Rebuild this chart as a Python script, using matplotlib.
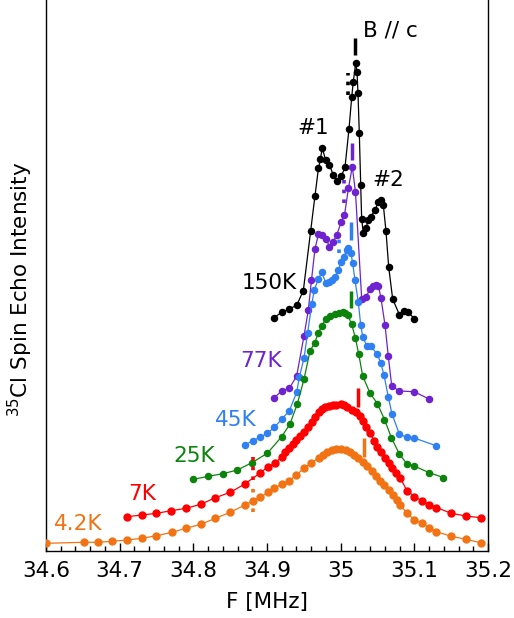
import matplotlib
matplotlib.use("Agg")
import matplotlib.pyplot as plt
from matplotlib.ticker import MultipleLocator

plt.rcParams['font.family'] = ['DejaVu Sans']

# ---------------- data (frequency in MHz, intensity in arbitrary units incl. offset) ----------------
f_150K = [34.9095, 34.9199, 34.9303, 34.9403, 34.9493, 34.9593, 34.9651, 34.9699, 34.9726, 34.9749,
          34.9797, 34.9848, 34.9900, 34.9957, 35.0011, 35.0059, 35.0113, 35.0150, 35.0171, 35.0204,
          35.0222, 35.0235, 35.0253, 35.0272, 35.0285, 35.0307, 35.0344, 35.0375, 35.0412, 35.0466,
          35.0511, 35.0543, 35.0579, 35.0615, 35.0652, 35.0706, 35.0796, 35.0855, 35.0918, 35.0995]
i_150K = [233.3, 238.7, 242.0, 245.7, 260.3, 320.3, 355.0, 383.0, 392.0, 403.0,
          391.0, 386.0, 376.0, 370.0, 375.0, 384.0, 422.0, 454.0, 469.0, 488.0,
          479.0, 458.0, 418.0, 366.0, 332.0, 318.0, 323.0, 331.0, 334.5, 341.0,
          349.0, 351.5, 346.0, 320.0, 284.0, 252.0, 236.5, 240.0, 239.0, 232.5]

f_77K = [34.9099, 34.9199, 34.9303, 34.9403, 34.9502, 34.9561, 34.9604, 34.9651, 34.9699, 34.9746,
         34.9801, 34.9848, 34.9896, 34.9946, 35.0008, 35.0052, 35.0106, 35.0158, 35.0201, 35.0285,
         35.0344, 35.0398, 35.0439, 35.0479, 35.0513, 35.0547, 35.0602, 35.0646, 35.0693, 35.0796,
         35.0999, 35.1199]
i_77K = [153.3, 160.0, 162.7, 175.0, 215.0, 241.0, 271.0, 302.0, 317.0, 316.0,
         312.0, 304.5, 309.0, 316.0, 329.0, 336.0, 363.0, 384.3, 359.0, 252.5,
         254.0, 262.0, 265.0, 266.0, 265.0, 253.0, 226.0, 195.0, 165.0, 160.0,
         159.3, 152.0]

f_45K = [34.8701, 34.8806, 34.8905, 34.9004, 34.9099, 34.9199, 34.9303, 34.9403, 34.9438, 34.9502,
         34.9552, 34.9607, 34.9642, 34.9696, 34.9742, 34.9801, 34.9846, 34.9889, 34.9923, 34.9968,
         35.0008, 35.0045, 35.0082, 35.0106, 35.0140, 35.0163, 35.0194, 35.0239, 35.0272, 35.0299,
         35.0353, 35.0408, 35.0497, 35.0543, 35.0588, 35.0646, 35.0697, 35.0796, 35.0896, 35.0999,
         35.1294]
i_45K = [106.0, 110.3, 113.7, 117.7, 123.7, 131.7, 140.3, 158.7, 173.7, 192.7,
         218.3, 246.7, 261.0, 271.7, 278.7, 267.7, 269.3, 271.0, 273.7, 281.0,
         289.0, 294.3, 301.0, 303.5, 297.7, 287.7, 271.0, 249.3, 226.0, 214.3,
         205.3, 205.0, 196.7, 188.3, 176.0, 154.3, 137.0, 117.0, 113.7, 113.0,
         105.3]

f_25K = [34.8002, 34.8203, 34.8399, 34.8599, 34.8799, 34.9004, 34.9199, 34.9312, 34.9411, 34.9502,
         34.9584, 34.9647, 34.9696, 34.9742, 34.9797, 34.9855, 34.9923, 34.9981, 35.0027, 35.0061,
         35.0095, 35.0150, 35.0199, 35.0245, 35.0299, 35.0398, 35.0497, 35.0595, 35.0690, 35.0796,
         35.0896, 35.0999, 35.1202, 35.1393]
i_25K = [71.7, 74.7, 77.3, 81.0, 88.5, 97.7, 114.3, 127.0, 147.0, 171.7,
         200.0, 208.3, 217.7, 225.0, 231.7, 235.0, 236.7, 237.7, 238.7, 238.0,
         236.0, 226.7, 213.2, 197.0, 175.0, 158.0, 147.5, 131.5, 113.0, 97.0,
         87.5, 85.0, 78.3, 73.5]

f_7K = [34.710, 34.730, 34.750, 34.770, 34.790, 34.810, 34.830, 34.850, 34.870, 34.890,
        34.901, 34.911, 34.920, 34.925, 34.930, 34.935, 34.940, 34.945, 34.950, 34.955,
        34.961, 34.965, 34.970, 34.974, 34.979, 34.984, 34.989, 34.994, 35.000, 35.005,
        35.009, 35.015, 35.021, 35.026, 35.030, 35.035, 35.040, 35.045, 35.050, 35.055,
        35.060, 35.066, 35.070, 35.075, 35.081, 35.090, 35.100, 35.110, 35.120, 35.130,
        35.150, 35.170, 35.190]
i_7K = [34.3, 36.0, 37.7, 40.3, 42.7, 46.7, 53.3, 58.7, 67.0, 77.7,
        84.0, 88.0, 94.3, 99.0, 102.7, 107.0, 111.0, 115.0, 119.0, 124.0,
        129.0, 134.0, 139.0, 142.5, 144.3, 145.5, 146.3, 146.5, 147.5, 146.0,
        144.0, 141.0, 139.0, 135.0, 130.5, 124.3, 117.7, 110.5, 104.5, 99.3,
        93.0, 88.0, 83.5, 78.0, 72.7, 60.5, 54.5, 50.3, 46.5, 43.5,
        37.7, 35.0, 33.3]

f_4K = [34.600, 34.651, 34.670, 34.690, 34.710, 34.730, 34.750, 34.771, 34.790, 34.810,
        34.830, 34.850, 34.870, 34.881, 34.890, 34.902, 34.910, 34.920, 34.930, 34.940,
        34.950, 34.960, 34.970, 34.976, 34.981, 34.988, 34.994, 35.001, 35.007, 35.012,
        35.018, 35.024, 35.030, 35.036, 35.042, 35.048, 35.053, 35.059, 35.065, 35.071,
        35.076, 35.081, 35.090, 35.100, 35.110, 35.120, 35.130, 35.150, 35.170, 35.190]
i_4K = [7.7, 8.7, 8.7, 9.7, 11.0, 12.7, 15.3, 18.7, 22.7, 26.7,
        32.7, 38.7, 46.0, 50.3, 53.7, 58.7, 63.0, 67.0, 70.3, 76.0,
        82.7, 88.0, 93.2, 96.5, 99.5, 101.0, 102.3, 102.3, 100.7, 99.3,
        96.0, 92.7, 89.0, 84.7, 80.2, 75.5, 70.3, 66.0, 61.0, 56.0,
        51.0, 46.0, 37.7, 31.4, 28.0, 23.2, 19.3, 14.7, 11.7, 8.3]

series_labels = ["150K", "77K", "45K", "25K", "7K", "4.2K"]
series_colors = ["#000000", "#6e22d0", "#2f80f2", "#0c840c", "#ff0000", "#f27314"]
series_f = [f_150K, f_77K, f_45K, f_25K, f_7K, f_4K]
series_i = [i_150K, i_77K, i_45K, i_25K, i_7K, i_4K]

# solid vertical markers (frequency, bottom, top)
bar_f = [35.0194, 35.0158, 35.0136, 35.0136, 35.0239, 35.0319]
bar_lo = [496.0, 391.0, 311.0, 243.0, 144.0, 94.0]
bar_hi = [513.0, 407.7, 329.0, 260.0, 163.0, 113.0]
# dotted vertical markers
dot_f = [35.0103, 35.0041, 34.9977, 34.8808, 34.8804]
dot_lo = [456.0, 348.0, 298.0, 71.0, 39.3]
dot_hi = [478.0, 371.0, 312.0, 94.3, 62.7]
dot_colors = ["#000000", "#6e22d0", "#2f80f2", "#ff0000", "#f27314"]

# label positions (frequency, intensity)
label_f = [34.9027, 34.8918, 34.8579, 34.8009, 34.7303, 34.6434]
label_i = [268.0, 190.0, 131.0, 95.0, 57.0, 27.0]

tick_vals = [34.6, 34.7, 34.8, 34.9, 35.0, 35.1, 35.2]
tick_labels = ["34.6", "34.7", "34.8", "34.9", "35", "35.1", "35.2"]

# ---------------- figure ----------------
fig = plt.figure(figsize=(5.14, 6.18), dpi=100)
ax = fig.add_axes([46 / 514, 67 / 618, 442 / 514, 551 / 618])

for f, i, c in zip(series_f, series_i, series_colors):
    ms = 5.0 if c in ("#ff0000", "#f27314") else 4.4
    ax.plot(f, i, '-o', color=c, lw=0.9, ms=ms, mec=c, mfc=c, zorder=3)

for x, lo, hi, c in zip(bar_f, bar_lo, bar_hi, series_colors):
    ax.plot([x, x], [lo, hi], color=c, lw=2.5, solid_capstyle='butt', zorder=4)

for x, lo, hi, c in zip(dot_f, dot_lo, dot_hi, dot_colors):
    ax.plot([x, x], [lo, hi], color=c, lw=2.6, linestyle=(0, (1.0, 1.7)),
            dash_capstyle='butt', zorder=4)

for lab, x, y, c in zip(series_labels, label_f, label_i, series_colors):
    ax.text(x, y, lab, color=c, fontsize=15.5, ha='center', va='center')

ax.text(35.0301, 521, "B // c", fontsize=15.5, ha='left', va='center')
ax.text(34.9624, 423, "#1", fontsize=15.5, ha='center', va='center')
ax.text(35.0642, 371, "#2", fontsize=15.5, ha='center', va='center')

ax.set_xlim(34.6, 35.2)
ax.set_ylim(0, 551)
ax.set_xticks(tick_vals)
ax.set_xticklabels(tick_labels)
ax.xaxis.set_minor_locator(MultipleLocator(0.02))
ax.tick_params(axis='x', which='major', direction='in', length=6, width=1.0,
               labelsize=15.5, pad=7)
ax.tick_params(axis='x', which='minor', direction='in', length=3.5, width=1.0)
ax.set_yticks([])
ax.spines['top'].set_visible(False)
for s in ('left', 'right', 'bottom'):
    ax.spines[s].set_linewidth(1.0)

ax.set_xlabel("F [MHz]", fontsize=15.5, labelpad=8)
ax.set_ylabel("$^{35}$Cl Spin Echo Intensity", fontsize=15.5)
ax.yaxis.set_label_coords(-0.026, 0.475)

fig.savefig("out.png", dpi=100)
